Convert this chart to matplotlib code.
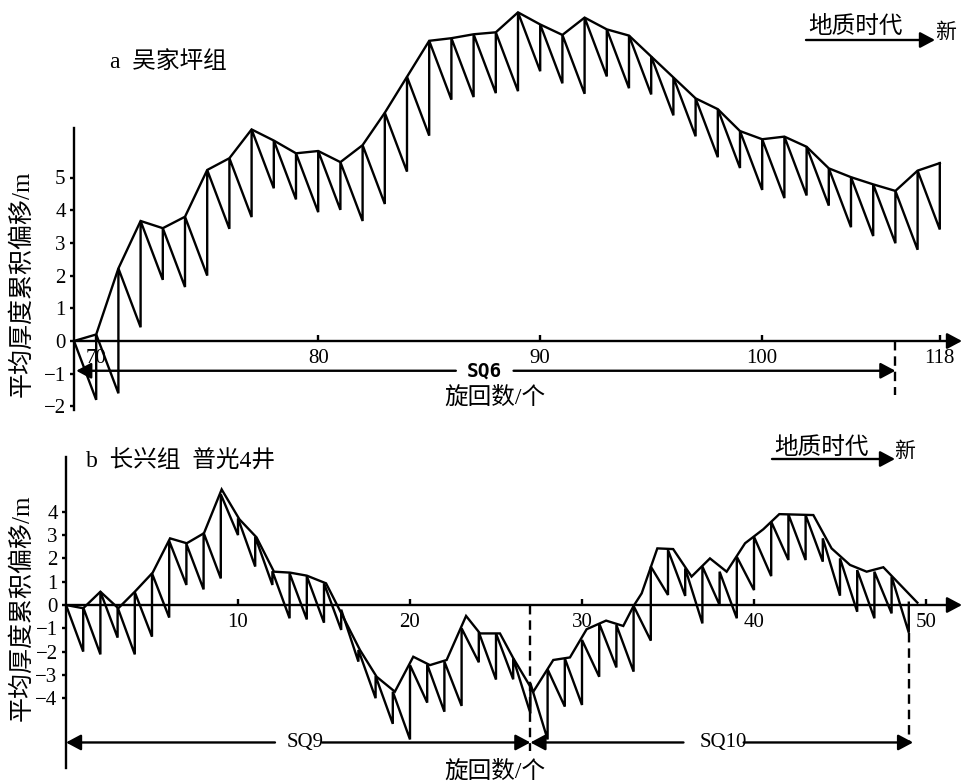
import numpy as np
import matplotlib.pyplot as plt

plt.rcParams['font.family'] = ['Liberation Serif', 'Noto Sans CJK SC']
plt.rcParams['axes.unicode_minus'] = True

# ---- a 吴家坪组 (cycles 69..108, last tick labelled 118) ----
cyc_a = np.arange(69, 109)
tops_a = [0.0, 0.2, 2.22, 3.67, 3.45, 3.80, 5.23, 5.59, 6.47, 6.13,
          5.74, 5.81, 5.47, 5.99, 6.98, 8.08, 9.18, 9.26, 9.38, 9.44,
          10.05, 9.68, 9.36, 9.89, 9.53, 9.34, 8.70, 8.06, 7.42, 7.09,
          6.42, 6.17, 6.25, 5.94, 5.28, 5.01, 4.79, 4.59, 5.21, 5.44]
lows_a = [-1.8, -1.6, 0.42, 1.87, 1.65, 2.0, 3.43, 3.79, 4.67, 4.33,
          3.94, 4.01, 3.67, 4.19, 5.18, 6.28, 7.38, 7.46, 7.58, 7.64,
          8.25, 7.88, 7.56, 8.09, 7.73, 7.54, 6.90, 6.26, 5.62, 5.29,
          4.62, 4.37, 4.45, 4.14, 3.48, 3.21, 2.99, 2.79, 3.41]
xticks_a = [70, 80, 90, 100, 108]
xticklabels_a = ['70', '80', '90', '100', '118']

# ---- b 长兴组 普光4井 (cycles 0..49) ----
cyc_b = np.arange(0, 50)
tops_b = [0, -0.1, 0.57, -0.1, 0.55, 1.36, 2.75, 2.62, 3.1, 4.75,
          3.72, 2.93, 1.45, 1.36, 1.24, 0.93, -0.2, -1.93, -3.05, -3.72,
          -2.58, -2.55, -2.43, -1.0, -1.17, -1.22, -2.29, -3.36, -2.76, -2.29,
          -1.5, -0.79, -0.86, -0.04, 1.65, 2.36, 1.57, 1.65, 1.43, 2.07,
          2.93, 3.58, 3.89, 3.86, 2.86, 2.0, 1.5, 1.43, 1.22, 0.1]
lows_b = [-2.0, -2.12, -1.4, -2.12, -1.36, -0.54, 0.86, 0.67, 1.14,
          3.0, 1.65, 0.86, -0.57, -0.62, -0.76, -1.07, -2.43, -4.0, -5.1,
          -5.77, -4.19, -4.58, -4.33, -2.46, -3.2, -3.19, -4.65, -5.77, -4.36,
          -4.29, -3.08, -2.68, -2.86, -1.53, 0.43, 0.39, -0.79, 0.0, -0.57,
          0.64, 1.24, 1.93, 1.93, 1.86, 0.4, -0.29, -0.57, -0.36, -1.19]
env_b_x = [0, 1.0, 2.0, 3.04, 4.0, 5.04, 6.05, 7.02, 8.02, 9.05,
           10.08, 11.08, 12.09, 13.02, 14.0, 15.12, 17.09, 18.06, 19.12, 20.19,
           21.16, 22.13, 23.26, 24.07, 25.23, 26.01, 27.17, 28.33, 29.3, 30.27,
           31.4, 32.4, 33.0, 33.47, 34.38, 35.3, 36.37, 37.44, 38.41, 39.48,
           40.54, 41.47, 43.45, 44.51, 45.58, 46.55, 47.52, 49.5]
env_b_y = [0, -0.14, 0.57, -0.14, 0.57, 1.39, 2.86, 2.65, 3.08, 4.96,
           3.68, 2.9, 1.43, 1.39, 1.26, 0.93, -1.93, -3.08, -3.72, -2.22,
           -2.58, -2.36, -0.47, -1.22, -1.22, -2.29, -3.72, -2.36, -2.25, -1.04,
           -0.67, -0.9, -0.04, 0.5, 2.43, 2.4, 1.22, 2.0, 1.43, 2.65,
           3.25, 3.9, 3.86, 2.43, 1.72, 1.43, 1.62, 0.1]

W, H = 962, 782
LW = 1.7
fig = plt.figure(figsize=(9.62, 7.82), dpi=100)


def sawtooth(cyc, tops, lows):
    xs, ys = [cyc[0]], [tops[0]]
    for i in range(1, len(cyc)):
        xs += [cyc[i], cyc[i]]
        ys += [lows[i - 1], tops[i]]
    return xs, ys


def arrow(ax, tip, tail, coords='data'):
    ax.annotate('', xy=tip, xytext=tail, xycoords=coords, textcoords=coords,
                annotation_clip=False,
                arrowprops=dict(arrowstyle='-|>,head_length=0.45,head_width=0.24',
                                color='k', lw=LW, mutation_scale=20,
                                shrinkA=0, shrinkB=0))


def style_axes(ax, x0, ybounds, xend):
    ax.patch.set_visible(False)
    ax.spines['top'].set_visible(False)
    ax.spines['right'].set_visible(False)
    ax.spines['left'].set_position(('data', x0))
    ax.spines['bottom'].set_position(('data', 0))
    ax.spines['left'].set_bounds(*ybounds)
    ax.spines['bottom'].set_bounds(x0, xend)
    for s in ('left', 'bottom'):
        ax.spines[s].set_linewidth(LW)
    ax.tick_params(axis='x', direction='in', length=4, width=LW, pad=6,
                   labelsize=15)
    ax.tick_params(axis='y', direction='out', length=3, width=LW, pad=3,
                   labelsize=15)
    arrow(ax, (ax.get_xlim()[1], 0), (xend - 0.2, 0))


def time_arrow(ax, x0, x1, y, ytext, xnew):
    fig.text(x0 / W + 0.002, 1 - ytext / H, '地质时代', ha='left', va='center',
             fontsize=17)
    arrow(ax, (x1, H - y), (x0, H - y), coords='figure pixels')
    fig.text(xnew / W, 1 - (y - 7) / H, '新', ha='center', va='center',
             fontsize=15)


# ---------------- panel a ----------------
ax_a = fig.add_axes([0, 1 - 420 / H, 1, 420 / H])
ax_a.set_xlim(69 - 74 / 22.2, 69 + 888 / 22.2)
ax_a.set_ylim((341 - 420) / 32.7, 341 / 32.7)
xs, ys = sawtooth(cyc_a, tops_a, lows_a)
ax_a.plot(xs, ys, color='k', lw=LW, solid_joinstyle='miter')
ax_a.plot(cyc_a, tops_a, color='k', lw=LW, solid_joinstyle='miter')
style_axes(ax_a, 69, (-2.1, 6.5), 108.6)
ax_a.set_xticks(xticks_a)
ax_a.set_xticklabels(xticklabels_a)
ax_a.set_yticks(range(-2, 6))

# SQ6
arrow(ax_a, (69.1, -0.91), (86.2, -0.91))
arrow(ax_a, (106, -0.91), (88.8, -0.91))
ax_a.text(87.5, -0.91, 'SQ6', ha='center', va='center', fontsize=14,
          fontweight='bold', family='DejaVu Sans Mono')
ax_a.plot([106, 106], [0, -1.65], color='k', lw=LW, ls='--', dashes=(4, 2.5))

fig.text(110 / W, 1 - 62 / H, 'a  吴家坪组', ha='left', va='center', fontsize=17)
fig.text(22 / W, 1 - 284 / H, '平均厚度累积偏移/m', rotation=90,
         ha='center', va='center', fontsize=18)
fig.text(495 / W, 1 - 398 / H, '旋回数/个', ha='center', va='center', fontsize=17)
time_arrow(ax_a, 806, 935, 40, 27, 946)

# ---------------- panel b ----------------
ax_b = fig.add_axes([0, 0, 1, 362 / H])
ax_b.set_xlim(-66 / 17.2, 896 / 17.2)
ax_b.set_ylim((605 - 782) / 23.3, (605 - 420) / 23.3)
xs, ys = sawtooth(cyc_b, tops_b, lows_b)
ax_b.plot(xs, ys, color='k', lw=LW, solid_joinstyle='miter')
ax_b.plot(env_b_x, env_b_y, color='k', lw=LW, solid_joinstyle='miter')
style_axes(ax_b, 0, (-7.0, 6.35), 51.6)
ax_b.set_xticks([10, 20, 30, 40, 50])
ax_b.set_yticks(range(-4, 5))

# SQ9 / SQ10
arrow(ax_b, (0, -5.9), (12.15, -5.9))
arrow(ax_b, (27, -5.9), (14.9, -5.9))
ax_b.text(13.9, -5.9, 'SQ9', ha='center', va='center', fontsize=15)
arrow(ax_b, (27, -5.9), (35.9, -5.9))
arrow(ax_b, (49.25, -5.9), (39.4, -5.9))
ax_b.text(38.2, -5.9, 'SQ10', ha='center', va='center', fontsize=15)
ax_b.plot([27, 27], [0, -6.25], color='k', lw=LW, ls='--', dashes=(4, 2.5))
ax_b.plot([49, 49], [-1.19, -5.85], color='k', lw=LW, ls='--', dashes=(4, 2.5))

fig.text(86 / W, 1 - 462 / H, 'b  长兴组  普光4井', ha='left', va='center',
         fontsize=17)
fig.text(22 / W, 1 - 608 / H, '平均厚度累积偏移/m', rotation=90,
         ha='center', va='center', fontsize=18)
fig.text(495 / W, 1 - 772 / H, '旋回数/个', ha='center', va='center', fontsize=17)
time_arrow(ax_b, 772, 895, 459, 448, 905)

fig.savefig('out.png', dpi=100)
